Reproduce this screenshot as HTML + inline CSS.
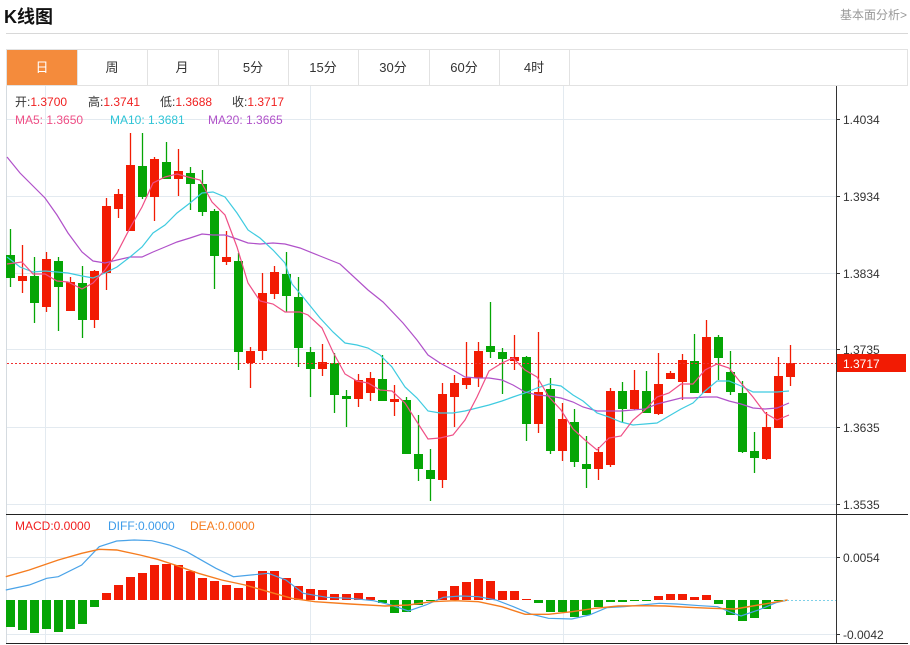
<!DOCTYPE html>
<html><head><meta charset="utf-8">
<style>
html,body{margin:0;padding:0;background:#fff;width:910px;height:645px;overflow:hidden;font-family:"Liberation Sans","Noto Sans CJK SC",sans-serif;}
.abs{position:absolute;}
</style></head>
<body>
<div class="abs" style="left:4px;top:3px;font-size:18px;font-weight:bold;color:#111;">K线图</div>
<div class="abs" style="right:3px;top:6px;font-size:12px;color:#999;">基本面分析&gt;</div>
<div class="abs" style="left:6px;top:33px;width:902px;height:1px;background:#d8d8d8;"></div>
<svg class="abs" style="left:0;top:0" width="910" height="645" id="s">
  <rect x="6.5" y="49.5" width="901" height="36" fill="#fff" stroke="#e2e2e2"/>
  <rect x="7" y="50" width="70" height="35" fill="#f48b3c"/>
  <g stroke="#e2e2e2">
    <line x1="77.5" y1="50" x2="77.5" y2="85"/><line x1="147.5" y1="50" x2="147.5" y2="85"/>
    <line x1="218.5" y1="50" x2="218.5" y2="85"/><line x1="288.5" y1="50" x2="288.5" y2="85"/>
    <line x1="358.5" y1="50" x2="358.5" y2="85"/><line x1="429.5" y1="50" x2="429.5" y2="85"/>
    <line x1="499.5" y1="50" x2="499.5" y2="85"/><line x1="569.5" y1="50" x2="569.5" y2="85"/>
  </g>
  <g font-size="13" text-anchor="middle" fill="#333">
    <text x="42" y="72" fill="#fff">日</text><text x="112" y="72">周</text><text x="182" y="72">月</text>
    <text x="253" y="72">5分</text><text x="323" y="72">15分</text><text x="393" y="72">30分</text>
    <text x="464" y="72">60分</text><text x="534" y="72">4时</text>
  </g>
  <g stroke="#e3eaf0" stroke-width="1">
    <line x1="7" y1="119.5" x2="836" y2="119.5"/><line x1="7" y1="196.5" x2="836" y2="196.5"/>
    <line x1="7" y1="273.5" x2="836" y2="273.5"/><line x1="7" y1="349.5" x2="836" y2="349.5"/>
    <line x1="7" y1="427.5" x2="836" y2="427.5"/><line x1="7" y1="504.5" x2="836" y2="504.5"/>
    <line x1="45.5" y1="86" x2="45.5" y2="643"/><line x1="310.5" y1="86" x2="310.5" y2="643"/>
    <line x1="563.5" y1="86" x2="563.5" y2="643"/>
    <line x1="7" y1="557.5" x2="836" y2="557.5"/><line x1="7" y1="634.5" x2="836" y2="634.5"/>
  </g>
  <line x1="6.5" y1="86" x2="6.5" y2="643" stroke="#d5dbe0"/>
  <line x1="836.5" y1="86" x2="836.5" y2="643" stroke="#333"/>
  <line x1="6" y1="514.5" x2="908" y2="514.5" stroke="#222"/>
  <line x1="6" y1="643.5" x2="908" y2="643.5" stroke="#222"/>
  <g stroke="#333"><line x1="836" y1="119.5" x2="840" y2="119.5"/><line x1="836" y1="196.5" x2="840" y2="196.5"/><line x1="836" y1="273.5" x2="840" y2="273.5"/><line x1="836" y1="349.5" x2="840" y2="349.5"/><line x1="836" y1="427.5" x2="840" y2="427.5"/><line x1="836" y1="504.5" x2="840" y2="504.5"/><line x1="836" y1="557.5" x2="840" y2="557.5"/><line x1="836" y1="634.5" x2="840" y2="634.5"/></g>
  <g font-size="12" fill="#333">
    <text x="843" y="124">1.4034</text><text x="843" y="201">1.3934</text><text x="843" y="278">1.3834</text>
    <text x="843" y="354">1.3735</text><text x="843" y="432">1.3635</text><text x="843" y="509">1.3535</text>
    <text x="843" y="562">0.0054</text><text x="843" y="639">-0.0042</text>
  </g>
  <g id="cd"></g>
  <line x1="7" y1="363.5" x2="836" y2="363.5" stroke="#f03030" stroke-dasharray="2,2"/>
  <rect x="837" y="354" width="69" height="18" fill="#f21b03"/>
  <text x="843" y="368" font-size="12" fill="#fff">1.3717</text>
  <line x1="783" y1="600.5" x2="836" y2="600.5" stroke="#7fd0e8" stroke-dasharray="2,2"/>
  <g font-size="12">
    <text x="15" y="106" fill="#333">开:<tspan fill="#f02020">1.3700</tspan></text>
    <text x="88" y="106" fill="#333">高:<tspan fill="#f02020">1.3741</tspan></text>
    <text x="160" y="106" fill="#333">低:<tspan fill="#f02020">1.3688</tspan></text>
    <text x="232" y="106" fill="#333">收:<tspan fill="#f02020">1.3717</tspan></text>
    <text x="15" y="124" fill="#ef4f86">MA5: 1.3650</text>
    <text x="110" y="124" fill="#2ec4d6">MA10: 1.3681</text>
    <text x="208" y="124" fill="#b051c9">MA20: 1.3665</text>
    <text x="15" y="530" fill="#f02020">MACD:0.0000</text>
    <text x="108" y="530" fill="#3d9be9">DIFF:0.0000</text>
    <text x="190" y="530" fill="#f57c1f">DEA:0.0000</text>
  </g>
</svg>
<script>
var R="#f21b03",G="#05a505";
var C=[[10,0,255,278,229,287],[22,1,276,281,245,293],[34,0,276,303,257,323],[46,1,259,307,252,312],[58,0,261,287,257,331],[70,1,282,311,277,311],[82,0,283,320,266,338],[94,1,271,320,270,328],[106,1,206,273,198,290],[118,1,194,209,189,218],[130,1,165,231,133,231],[142,0,166,197,133,199],[154,1,159,197,157,221],[166,0,162,179,142,179],[178,1,171,179,149,196],[190,0,173,184,167,210],[202,0,184,212,170,216],[214,0,211,256,209,289],[226,1,257,262,231,265],[238,0,261,352,253,370],[250,1,351,363,347,388],[262,1,293,351,273,360],[274,1,272,294,266,299],[286,0,274,296,252,312],[298,0,297,348,277,367],[310,0,352,369,347,397],[322,1,362,369,344,376],[334,0,363,395,353,413],[346,0,396,399,390,427],[358,1,380,399,374,407],[370,1,378,393,372,401],[382,0,379,401,355,401],[394,1,399,402,385,416],[406,0,400,454,397,454],[418,0,454,469,415,481],[430,0,470,479,449,501],[442,1,394,480,383,488],[454,1,383,397,375,427],[466,1,378,385,342,389],[478,1,351,378,342,387],[490,0,346,352,302,358],[502,0,352,359,348,394],[514,1,357,361,335,370],[526,0,357,424,356,441],[538,1,392,424,332,433],[550,0,389,451,378,454],[562,1,419,451,403,461],[574,0,422,462,409,467],[586,0,464,469,436,488],[598,1,452,469,447,480],[610,1,391,465,388,467],[622,0,391,409,382,423],[634,1,390,409,370,410],[646,0,391,413,371,413],[658,1,384,414,353,415],[670,1,373,379,371,379],[682,1,360,382,354,400],[694,0,361,393,334,393],[706,1,337,393,320,393],[718,0,337,358,335,380],[730,0,372,392,351,395],[742,0,393,452,381,453],[754,0,451,458,432,473],[766,1,427,459,412,460],[778,1,376,428,357,428],[790,1,363,377,345,386]];
var H=[627,630,633,629,632,629,624,607,593,585,577,573,565,564,565,571,578,581,585,588,581,571,571,578,586,589,590,594,594,593,597,603,613,612,605,601,591,586,582,579,581,591,591,599,603,612,612,617,615,607,602,602,601,601,596,594,594,597,595,604,615,621,618,609,601,600];
var g=document.getElementById('cd'),h='';
C.forEach(function(c){var col=c[1]?R:G;h+='<line x1="'+(c[0]+.5)+'" y1="'+c[4]+'" x2="'+(c[0]+.5)+'" y2="'+c[5]+'" stroke="'+col+'" stroke-width="1.3"/>';h+='<rect x="'+(c[0]-4)+'" y="'+c[2]+'" width="9" height="'+Math.max(2,c[3]-c[2])+'" fill="'+col+'"/>';});
H.forEach(function(v,i){var x=6+12*i;var z=600;if(Math.abs(v-z)<1)return;var col=v<z?R:G;var y=Math.min(v,z),hh=Math.abs(v-z);h+='<rect x="'+x+'" y="'+y+'" width="9" height="'+hh+'" fill="'+col+'"/>';});
function pl(p,col,w){return '<polyline fill="none" stroke="'+col+'" stroke-width="'+(w||1.2)+'" points="'+p+'"/>';}
var ma5="7,264 22,262 33,274 45,274 57,281 68,282 82,289 93,283 105,270 117,253 130,228 142,207 153,183 165,177 177,174 188,177 200,180 212,202 225,215 237,247 248,283 260,301 273,304 285,312 300,312 308,315 322,328 333,352 345,374 357,381 368,383 380,390 392,391 405,403 417,422 428,439 440,438 453,435 465,420 477,397 489,371 502,363 513,358 525,370 537,377 549,397 561,410 573,429 585,440 597,450 609,438 621,436 633,420 645,410 657,397 669,393 681,384 693,384 705,370 717,364 729,368 741,383 753,397 765,413 777,420 789,415";
var ma10="7,257 20,267 33,272 45,271 57,272 68,273 82,276 93,278 105,273 117,267 130,257 142,247 153,233 165,225 177,213 190,203 202,193 213,192 225,197 237,213 248,230 260,238 273,250 285,263 292,284 303,297 320,318 333,332 345,343 357,345 368,348 380,355 392,367 405,387 417,398 428,411 440,413 453,413 465,411 477,408 489,405 502,401 513,397 525,393 537,388 549,384 561,386 573,395 583,401 597,413 609,417 621,422 633,425 645,424 657,423 669,416 681,409 693,403 705,391 717,381 729,381 741,386 753,392 765,392 777,392 789,391";
var ma20="7,157 20,173 33,186 45,198 57,215 68,233 82,252 93,261 105,263 117,260 130,257 142,257 153,252 165,247 177,242 190,238 202,234 213,235 225,235 237,239 248,243 260,244 273,243 285,244 300,248 320,256 340,264 368,290 383,302 403,323 417,340 428,355 440,363 453,370 465,377 477,378 489,378 502,380 513,385 525,392 537,395 549,396 561,398 573,402 583,407 597,411 621,411 645,409 657,404 669,401 681,398 693,398 705,397 717,397 729,401 741,404 753,408 765,409 777,408 789,403";
h+=pl(ma20,"#b051c9")+pl(ma10,"#3fcbe0")+pl(ma5,"#ef4f86");
function cv(a){var o=[];for(var i=0;i<a.length;i+=2)o.push((a[i]/1.714).toFixed(1)+','+(510+a[i+1]/3).toFixed(1));return o.join(' ');}
var diff=cv([10,240,50,225,80,205,100,200,140,165,170,110,200,93,230,90,260,92,290,105,320,125,350,155,370,175,400,200,430,195,460,190,490,210,520,250,560,262,600,265,640,272,670,285,700,303,730,285,760,262,790,258,820,260,850,270,880,290,910,312,940,325,980,327,1010,315,1040,293,1070,290,1100,285,1130,280,1160,282,1200,287,1230,290,1250,305,1270,318,1300,300,1330,278,1350,270]);
var dea=cv([10,200,50,180,100,150,140,130,170,118,200,120,240,135,270,148,300,165,340,190,380,210,420,225,460,245,500,265,540,275,600,282,660,288,700,285,740,275,780,272,820,275,860,290,900,313,940,313,980,305,1020,295,1060,288,1100,287,1140,288,1180,292,1220,295,1260,297,1300,285,1350,270]);
h+=pl(diff,"#4aa3e8")+pl(dea,"#f57c1f",1.4);
g.innerHTML=h;
</script>
</body></html>
